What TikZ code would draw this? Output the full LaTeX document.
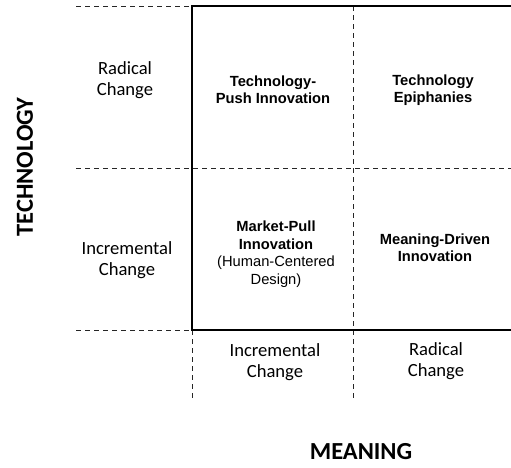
\documentclass[tikz,border=0pt]{standalone}
\usepackage{fontspec}
\setmainfont{Carlito}
\newfontfamily\arialfont{Liberation Sans}
\begin{document}
\begin{tikzpicture}[x=1pt,y=-1pt,
  solidline/.style={line width=2.5pt, line join=miter},
  dashline/.style={line width=0.9pt, dash pattern=on 5pt off 4pt, draw=black!85},
  axislbl/.style={font=\fontsize{18.6}{21.5}\selectfont, align=center, inner sep=0pt},
  quad/.style={font=\arialfont\bfseries\fontsize{14.7}{17}\selectfont, align=center, inner sep=0pt},
  quadmix/.style={font=\arialfont\fontsize{14.7}{17.5}\selectfont, align=center, inner sep=0pt},
  bigtitle/.style={font=\bfseries\fontsize{24.5}{27}\selectfont, inner sep=0pt}]
\useasboundingbox (0,0) rectangle (511,467);
% grid coordinates
\coordinate (TL0) at (76,6);
\coordinate (TL) at (192,6);
\coordinate (TM) at (353,6);
\coordinate (TR) at (511,6);
\coordinate (ML0) at (76,168);
\coordinate (MR) at (511,168);
\coordinate (BL0) at (76,330);
\coordinate (BL) at (192,330);
\coordinate (BR) at (511,330);
\coordinate (BM) at (353,400);
\coordinate (BLd) at (192,400);
% dashed lines
\draw[dashline] (TL0) -- (TL);
\draw[dashline] (ML0) -- (MR);
\draw[dashline] (BL0) -- (BL);
\draw[dashline] (TM) -- (BM);
\draw[dashline] (BL) -- (BLd);
% solid axes
\draw[solidline] (TR) -- (TL) -- (BL) -- (BR);
% labels
\node[axislbl] (tr) at (125,80) {Radical\\Change};
\node[axislbl] (ti) at (127,260) {Incremental\\Change};
\node[axislbl] (mi) at (275,362) {Incremental\\Change};
\node[axislbl] (mr) at (436,361) {Radical\\Change};
\node[quad] (q1) at (273,90) {Technology-\\Push Innovation};
\node[quad] (q2) at (433,90) {Technology\\Epiphanies};
\node[quadmix] (q3) at (276,254) {\textbf{Market-Pull}\\\textbf{Innovation}\\(Human-Centered\\Design)};
\node[quad] (q4) at (435,248) {Meaning-Driven\\Innovation};
\node[bigtitle, rotate=90] (tech) at (25,167) {TECHNOLOGY};
\node[bigtitle] (mean) at (361,452) {MEANING};
\end{tikzpicture}
\end{document}
